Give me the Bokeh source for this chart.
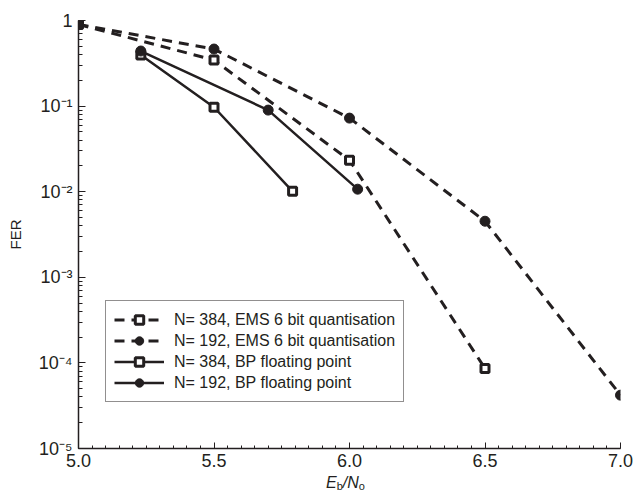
from bokeh.plotting import figure
from bokeh.layouts import column
from bokeh.models import (Range1d, SingleIntervalTicker, LogTicker, PrintfTickFormatter,
                          CustomJSTickFormatter, Legend, Div)
from bokeh.embed import file_html
from bokeh.resources import INLINE

# ---- data ----
x_ems384 = [5.0, 5.5, 6.0, 6.5]
y_ems384 = [0.90, 0.345, 0.0233, 8.6e-5]

x_ems192 = [5.0, 5.5, 6.0, 6.5, 7.0]
y_ems192 = [0.90, 0.464, 0.0724, 0.00452, 4.2e-5]

x_bp384 = [5.23, 5.5, 5.79]
y_bp384 = [0.395, 0.097, 0.0101]

x_bp192 = [5.23, 5.7, 6.03]
y_bp192 = [0.44, 0.0898, 0.0107]

labels = ["N= 384, EMS 6 bit quantisation",
          "N= 192, EMS 6 bit quantisation",
          "N= 384, BP floating point",
          "N= 192, BP floating point"]

INK = "#231f20"
FONT = "Liberation Sans"

p = figure(width=635, height=474, y_axis_type="log",
           x_range=Range1d(5.0, 7.0), y_range=Range1d(1e-5, 1.0),
           output_backend="svg", toolbar_location=None,
           min_border_left=78, min_border_right=15,
           min_border_top=20, min_border_bottom=26)
p.outline_line_color = None
p.grid.visible = False
p.background_fill_color = "white"
p.border_fill_color = "white"

# x axis
xa = p.xaxis[0]
xa.ticker = SingleIntervalTicker(interval=0.5, num_minor_ticks=10)
xa.formatter = PrintfTickFormatter(format="%.1f")
xa.major_tick_in = 6
xa.major_tick_out = 0
xa.minor_tick_in = 3
xa.minor_tick_out = 0
xa.major_label_standoff = 5
xa.axis_label = None

# y axis
ya = p.yaxis[0]
ya.ticker = LogTicker(num_minor_ticks=10)
ya.formatter = CustomJSTickFormatter(code="""
const e = Math.round(Math.log10(tick));
if (e === 0) return "1";
const m = {"-":"\\u207b","0":"\\u2070","1":"\\u00b9","2":"\\u00b2","3":"\\u00b3",
           "4":"\\u2074","5":"\\u2075","6":"\\u2076"};
return "10" + String(e).split("").map(c => m[c]).join("");
""")
ya.major_tick_in = 7
ya.major_tick_out = 0
ya.minor_tick_in = 4
ya.minor_tick_out = 0
ya.major_label_standoff = 6
ya.axis_label = "FER"
ya.axis_label_text_font_style = "normal"
ya.axis_label_text_font_size = "15px"
ya.axis_label_text_font = FONT
ya.axis_label_text_color = INK
ya.axis_label_standoff = 12

for ax in (xa, ya):
    ax.axis_line_color = INK
    ax.axis_line_width = 1.5
    ax.major_tick_line_color = INK
    ax.minor_tick_line_color = INK
    ax.major_label_text_font = FONT
    ax.major_label_text_font_size = "18px"
    ax.major_label_text_color = INK

# ---- series ----
DASH = "10 7"
l1 = p.line(x_ems384, y_ems384, line_color=INK, line_width=3, line_dash=DASH)
m1 = p.scatter(x_ems384, y_ems384, marker="square", size=8, fill_color="white",
               line_color=INK, line_width=3)
l2 = p.line(x_ems192, y_ems192, line_color=INK, line_width=3, line_dash=DASH)
m2 = p.scatter(x_ems192, y_ems192, marker="circle", size=10, fill_color=INK,
               line_color=INK, line_width=1)
l3 = p.line(x_bp384, y_bp384, line_color=INK, line_width=2.5)
m3 = p.scatter(x_bp384, y_bp384, marker="square", size=8, fill_color="white",
               line_color=INK, line_width=3)
l4 = p.line(x_bp192, y_bp192, line_color=INK, line_width=2.5)
m4 = p.scatter(x_bp192, y_bp192, marker="circle", size=10, fill_color=INK,
               line_color=INK, line_width=1)

legend = Legend(items=[(labels[0], [l1, m1]), (labels[1], [l2, m2]),
                       (labels[2], [l3, m3]), (labels[3], [l4, m4])],
                location=(27, 46), margin=0, padding=8, spacing=0,
                label_height=21, glyph_height=21, glyph_width=50,
                label_standoff=10,
                label_text_font=FONT, label_text_font_size="16px",
                label_text_color=INK,
                border_line_color=INK, border_line_width=1.2,
                background_fill_color="white", background_fill_alpha=1.0)
p.add_layout(legend, "center")

# ---- x axis label  E_b / N_o (HTML so that sub-scripts are real text) ----
xlabel_html = ('<span style="font-style:italic">E</span>'
               '<span style="font-size:11px;position:relative;top:2px">b</span>'
               '<span style="font-style:italic">/N</span>'
               '<span style="font-size:11px;position:relative;top:2px">o</span>')
xlabel = Div(text=xlabel_html, width=635, height=18, margin=0,
             styles={"padding-left": "326px", "padding-top": "1px",
                     "font-family": FONT,
                     "font-size": "16px", "line-height": "16px",
                     "color": INK, "white-space": "nowrap"})

layout = column(p, xlabel, spacing=0)
open("out.html", "w").write(file_html(layout, INLINE))
